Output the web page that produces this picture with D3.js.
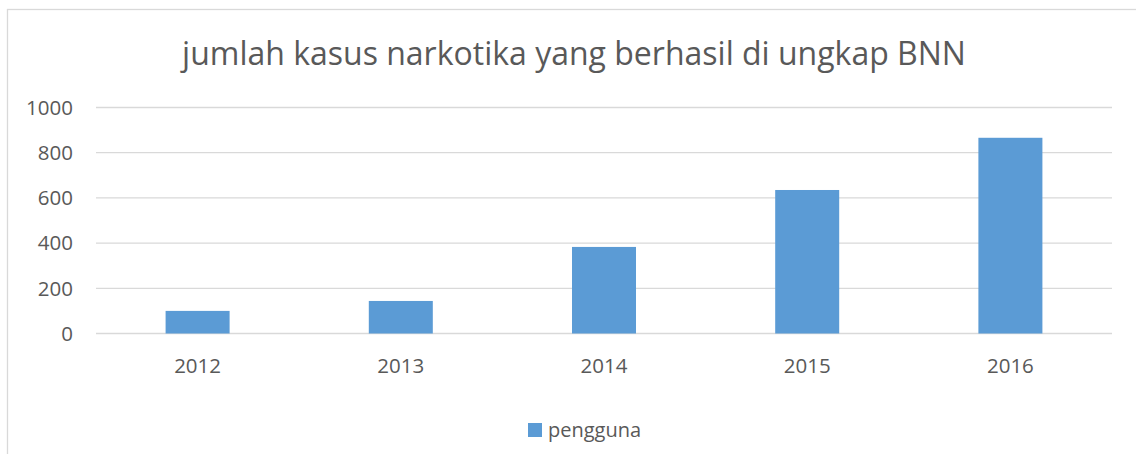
<!DOCTYPE html>
<html><head><meta charset="utf-8">
<script src="https://cdn.jsdelivr.net/npm/d3@7"></script>
<style>body{margin:0;background:#fff;} svg{display:block;}</style>
</head><body>
<svg id="c" width="1136" height="454"></svg>
<script>
const categories = ["2012","2013","2014","2015","2016"];
const values = [100, 144, 383, 635, 866];
const yTicks = [0,200,400,600,800,1000];
const seriesName = "pengguna";
const title = "jumlah kasus narkotika yang berhasil di ungkap BNN";

const svg = d3.select("#c");
const font = "'Open Sans', 'Liberation Sans', sans-serif";
svg.append("rect").attr("x",7.5).attr("y",9.5).attr("width",1140).attr("height",460)
  .attr("fill","#fff").attr("stroke","#d9d9d9").attr("stroke-width",1.3);

const x = d3.scaleBand().domain(categories).range([96,1112]).paddingInner(0.685).paddingOuter(0.3425);
const y = d3.scaleLinear().domain([0,1000]).range([333.5,107.5]);

const g = svg.append("g");
g.selectAll("line.grid").data(yTicks).join("line")
  .attr("x1",96).attr("x2",1112).attr("y1",d=>y(d)).attr("y2",d=>y(d))
  .attr("stroke","#d9d9d9").attr("stroke-width",1.3);

g.selectAll("rect.bar").data(values).join("rect")
  .attr("x",(d,i)=>x(categories[i])).attr("width",x.bandwidth())
  .attr("y",d=>y(d)).attr("height",d=>y(0)-y(d)).attr("fill","#5b9bd5");

g.selectAll("text.yt").data(yTicks).join("text")
  .attr("x",73).attr("y",d=>y(d)).attr("dy","0.36em").attr("text-anchor","end")
  .attr("font-family",font).attr("font-size",20.5).attr("fill","#595959").text(d=>d);

g.selectAll("text.xt").data(categories).join("text")
  .attr("x",d=>x(d)+x.bandwidth()/2).attr("y",373).attr("text-anchor","middle")
  .attr("font-family",font).attr("font-size",20.5).attr("fill","#595959").text(d=>d);

svg.append("text").attr("x",574).attr("y",65).attr("text-anchor","middle")
  .attr("font-family",font).attr("font-size",32).attr("fill","#595959").text(title);

svg.append("rect").attr("x",528).attr("y",423).attr("width",14).attr("height",14).attr("fill","#5b9bd5");
svg.append("text").attr("x",548).attr("y",437).attr("font-family",font).attr("font-size",20)
  .attr("fill","#595959").text(seriesName);
</script>
</body></html>
